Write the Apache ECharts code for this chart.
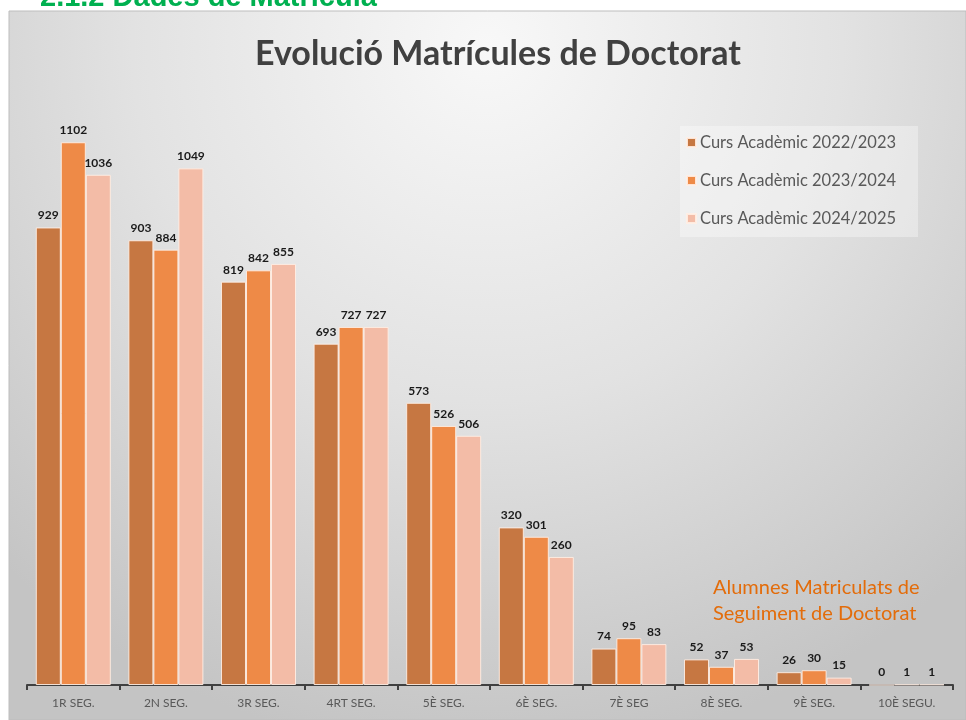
<!DOCTYPE html>
<html>
<head>
<meta charset="utf-8">
<script src="https://cdn.jsdelivr.net/npm/echarts@6/dist/echarts.min.js"></script>
<style>
  html, body { margin: 0; padding: 0; background: #fff; }
  #chart { width: 966px; height: 720px; }
</style>
</head>
<body>
<div id="chart"></div>
<script>
// dades
var categories = ['1R SEG.', '2N SEG.', '3R SEG.', '4RT SEG.', '5È SEG.', '6È SEG.', '7È SEG', '8È SEG.', '9È SEG.', '10È SEGU.'];
var seriesNames = ['Curs Acadèmic 2022/2023', 'Curs Acadèmic 2023/2024', 'Curs Acadèmic 2024/2025'];
var curs2223 = [929, 903, 819, 693, 573, 320, 74, 52, 26, 0];
var curs2324 = [1102, 884, 842, 727, 526, 301, 95, 37, 30, 1];
var curs2425 = [1036, 1049, 855, 727, 506, 260, 83, 53, 15, 1];
var colors = ['#C67742', '#EE8A47', '#F3BCA7'];

var chart = echarts.init(document.getElementById('chart'));

function barSerie(i, data) {
  return {
    name: seriesNames[i],
    type: 'bar',
    data: data,
    barGap: '0%',
    barCategoryGap: '19%',
    itemStyle: { color: colors[i], borderColor: 'rgba(255,238,228,0.9)', borderWidth: 1 },
    label: {
      show: true,
      position: 'top',
      distance: 6,
      color: '#1a1a1a',
      fontFamily: 'Lato',
      fontWeight: 'bold',
      fontSize: 12
    },
    emphasis: { disabled: true }
  };
}

chart.setOption({
  animation: false,
  graphic: [
    {
      type: 'rect',
      z: -10,
      shape: { x: 9, y: 11, width: 957, height: 709 },
      style: {
        fill: new echarts.graphic.RadialGradient(0.5, 0.05, 1.0, [
          { offset: 0, color: '#f8f8f8' },
          { offset: 0.5, color: '#e2e2e2' },
          { offset: 1, color: '#c4c4c4' }
        ]),
        stroke: '#bdbdbd',
        lineWidth: 1
      }
    },
    {
      type: 'text',
      z: -5,
      left: 40,
      top: -17,
      style: {
        text: '2.1.2 Dades de Matrícula',
        fill: '#00B050',
        font: 'bold 29px "Liberation Sans", Arial, sans-serif'
      }
    },
    {
      type: 'text',
      left: 713,
      top: 575,
      style: {
        text: 'Alumnes Matriculats de\nSeguiment de Doctorat',
        fill: '#E36C0A',
        font: '20px Lato, sans-serif',
        lineHeight: 26
      }
    }
  ],
  title: {
    text: 'Evolució Matrícules de Doctorat',
    left: 250,
    top: 32,
    textStyle: { color: '#404040', fontFamily: 'Lato', fontWeight: 'bold', fontSize: 34 }
  },
  legend: {
    data: seriesNames,
    orient: 'vertical',
    left: 680,
    top: 126,
    itemWidth: 9,
    itemHeight: 9,
    itemGap: 21,
    icon: 'rect',
    padding: [8, 22, 10, 6],
    backgroundColor: 'rgba(255,255,255,0.35)',
    textStyle: { color: '#595959', fontFamily: 'Lato', fontSize: 16.5, padding: [0, 0, 0, -1] }
  },
  grid: { left: 27, right: 13, top: 94, bottom: 35 },
  xAxis: {
    type: 'category',
    data: categories,
    axisLine: { lineStyle: { color: '#404040', width: 2 } },
    axisTick: { show: true, length: 5, lineStyle: { color: '#404040', width: 2 } },
    axisLabel: { color: '#595959', fontFamily: 'Lato', fontSize: 12, margin: 12 }
  },
  yAxis: {
    type: 'value',
    min: 0,
    max: 1200,
    show: false,
    splitLine: { show: false }
  },
  series: [
    barSerie(0, curs2223),
    barSerie(1, curs2324),
    barSerie(2, curs2425)
  ]
});
</script>
</body>
</html>
